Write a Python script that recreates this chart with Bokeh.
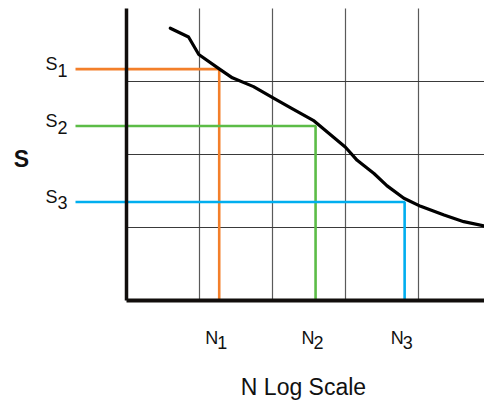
from bokeh.plotting import figure
from bokeh.models import Range1d
from bokeh.core.properties import value
from bokeh.embed import file_html
from bokeh.resources import INLINE

# ---- data (grid units, N on log scale) ----
curve_n = [0.60, 0.85, 0.99, 1.29, 1.45, 1.74, 2.02, 2.25, 2.57, 3.00, 3.16,
           3.39, 3.57, 3.80, 4.03, 4.35, 4.62, 4.90]
curve_s = [3.73, 3.61, 3.37, 3.16, 3.05, 2.93, 2.77, 2.64, 2.46, 2.10, 1.92,
           1.74, 1.57, 1.40, 1.29, 1.17, 1.08, 1.02]
point_n = [1.27, 2.59, 3.81]
point_s = [3.17, 2.39, 1.35]
point_colors = ["#F37F2A", "#5CBC47", "#00AEEF"]
n_labels = ["N", "N", "N"]
s_labels = ["S", "S", "S"]
sub_labels = ["1", "2", "3"]
grid_n = [1, 2, 3, 4]
grid_s = [1, 2, 3]
x_title = "N Log Scale"
y_title = "S"

# ---- layout ----
W, H = 484, 400
UNIT = 73.0           # pixels per grid unit
PX = 1.0 / UNIT
ORIGIN_X, ORIGIN_Y = 126, 300   # origin inside canvas (px)
xmin = -ORIGIN_X / UNIT
xmax = xmin + W / UNIT
ymax = ORIGIN_Y / UNIT
ymin = ymax - H / UNIT
TOP = (300 - 8) * PX
LEFT_EXT = -51 * PX
SHIFT = 7 * PX        # compensate baseline placement of the svg text

FONT = value("Liberation Sans")

p = figure(width=W, height=H, output_backend="svg", toolbar_location=None,
           x_range=Range1d(xmin, xmax), y_range=Range1d(ymin, ymax),
           min_border=0, outline_line_color=None)
p.axis.visible = False
p.grid.visible = False
p.background_fill_color = "white"
p.border_fill_color = "white"

# grid
p.segment(x0=grid_n, y0=[0] * len(grid_n), x1=grid_n, y1=[TOP] * len(grid_n),
          line_color="#5a5a5a", line_width=1.2)
p.segment(x0=[0] * len(grid_s), y0=grid_s, x1=[xmax] * len(grid_s), y1=grid_s,
          line_color="#3a3a3a", line_width=1.2)

# coloured reading lines
for n, s, c in zip(point_n, point_s, point_colors):
    p.line(x=[LEFT_EXT, n, n], y=[s, s, 0], line_color=c, line_width=2.6)

# axes
p.line(x=[0, 0], y=[0, TOP], line_color="#110e0c", line_width=3.5)
p.line(x=[0, xmax], y=[0, 0], line_color="#110e0c", line_width=3.8)

# curve
p.line(x=curve_n, y=curve_s, line_color="black", line_width=3.2,
       line_join="round", line_cap="round")

# N labels
p.text(x=[n - 1 * PX for n in point_n], y=[-44 * PX + SHIFT] * 3, text=n_labels,
       text_font=FONT, text_font_size="18px", text_align="right",
       text_baseline="alphabetic", text_color="#111111")
p.text(x=[n - 2 * PX for n in point_n], y=[-49 * PX + SHIFT] * 3, text=sub_labels,
       text_font=FONT, text_font_size="18px", text_align="left",
       text_baseline="alphabetic", text_color="#111111")

# S labels
p.text(x=[-69 * PX] * 3, y=[s - 2 * PX + SHIFT for s in point_s], text=s_labels,
       text_font=FONT, text_font_size="18px", text_align="right",
       text_baseline="alphabetic", text_color="#111111")
p.text(x=[-69 * PX] * 3, y=[s - 8 * PX + SHIFT for s in point_s], text=sub_labels,
       text_font=FONT, text_font_size="18px", text_align="left",
       text_baseline="alphabetic", text_color="#111111")

# titles
p.text(x=[(303 - 126) * PX], y=[-93 * PX + SHIFT], text=[x_title], text_font=FONT,
       text_font_size="23px", text_align="center", text_baseline="alphabetic",
       text_color="#111111")
p.text(x=[(21 - 126) * PX], y=[(300 - 165) * PX + SHIFT], text=[y_title],
       text_font=FONT, text_font_size="23px", text_font_style="bold",
       text_align="center", text_baseline="alphabetic", text_color="#111111")

open("out.html", "w").write(file_html(p, INLINE))
